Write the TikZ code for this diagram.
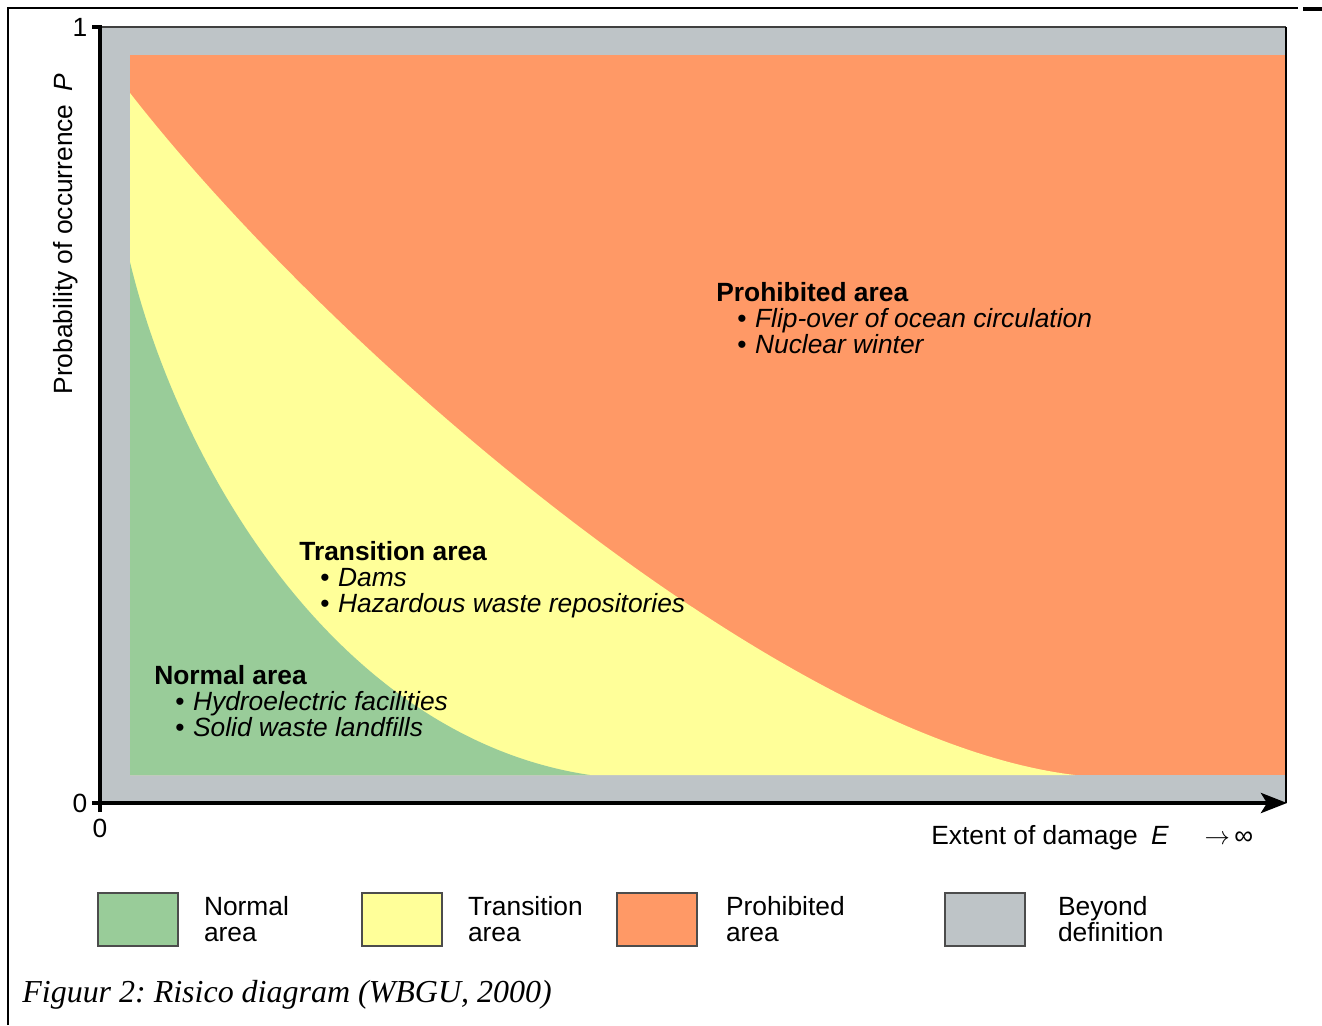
\documentclass[tikz,border=0pt]{standalone}
\usepackage{fontspec}
\setmainfont{Liberation Sans}
\newfontfamily\capfont{Liberation Serif}
\usetikzlibrary{positioning,arrows.meta}
\definecolor{normalgreen}{RGB}{153,204,153}
\definecolor{transyellow}{RGB}{255,255,153}
\definecolor{prohiborange}{RGB}{255,153,102}
\definecolor{beyondgray}{RGB}{190,196,199}
\newcommand{\areaitem}[1]{\hspace*{0.42cm}\textbullet\hspace{0.17cm}\textit{#1}}

\begin{document}
\frenchspacing
\begin{tikzpicture}[x=0.02cm,y=-0.02cm,
  txt/.style={font=\fontsize{15}{14.8}\selectfont,inner sep=0pt},
  areatxt/.style={txt,align=left,anchor=north west},
  legbox/.style={draw=black!70,line width=0.8pt,minimum width=1.6cm,minimum height=1.06cm,inner sep=0pt},
  legtxt/.style={txt,align=left,anchor=west},
  axisline/.style={line width=2.4pt}
]
\useasboundingbox (0,0) rectangle (1322,1025);

% page frame
\draw[line width=1pt] (8,1025) -- (8,8) -- (1298,8);
\draw[line width=2pt] (1303,9) -- (1322,9);

% the areas
\fill[beyondgray] (100,27) rectangle (1286,803);
\fill[prohiborange] (130,55) rectangle (1286,775);
\fill[transyellow] (130,93) .. controls (330,350) and (780,740) .. (1075,775) -- (130,775) -- cycle;
\fill[normalgreen] (130,262) .. controls (180,470) and (340,738) .. (590,775) -- (130,775) -- cycle;

% the axes
\coordinate (origin) at (100,803);
\coordinate (ytop) at (100,27);
\coordinate (xend) at (1287,803);
\coordinate (rtop) at (1286,27);
\draw[black!75,line width=1pt] (ytop) -- (rtop);
\draw[line width=1.6pt] (rtop) -- (1286,803);
\draw[axisline] (100,812) -- (ytop) -- (92,27);
\draw[axisline,-{Stealth[length=0.52cm,width=0.4cm,inset=0.12cm]}] (92,803) -- (xend);

\node[txt] (one) at (80,27) {1};
\node[txt] (zeroy) at (80,803) {0};
\node[txt] (zerox) at (100,828) {0};
\node[txt,rotate=90] (ylabel) at (66,234) {Probability of occurrence\enspace\textit{P}};
\node[txt,anchor=west] (xlabel) at (931,838) {Extent of damage\enspace\textit{E}};
\node[txt,right=0.7cm of xlabel] (infty) {$\rightarrow$\,∞};

% the area texts
\node[areatxt] (prohib) at (716,282) {\textbf{Prohibited area}\\ \areaitem{Flip-over of ocean circulation}\\ \areaitem{Nuclear winter}};
\node[areatxt] (trans) at (299,541) {\textbf{Transition area}\\ \areaitem{Dams}\\ \areaitem{Hazardous waste repositories}};
\node[areatxt] (normal) at (154,665) {\textbf{Normal area}\\ \areaitem{Hydroelectric facilities}\\ \areaitem{Solid waste landfills}};

% the legend
\node[legbox,fill=normalgreen] (legnormal) at (138,919.5) {};
\node[legbox,fill=transyellow] (legtrans) at (402,919.5) {};
\node[legbox,fill=prohiborange] (legprohib) at (657,919.5) {};
\node[legbox,fill=beyondgray] (legbeyond) at (985,919.5) {};
\node[legtxt,right=0.5cm of legnormal] (lnormal) {Normal\\area};
\node[legtxt,right=0.5cm of legtrans] (ltrans) {Transition\\area};
\node[legtxt,right=0.56cm of legprohib] (lprohib) {Prohibited\\area};
\node[legtxt,right=0.64cm of legbeyond] (lbeyond) {Beyond\\definition};

% caption
\node[anchor=west,inner sep=0pt,font=\capfont\itshape\fontsize{18.2}{20}\selectfont] (caption) at (22,995) {Figuur 2: Risico diagram (WBGU, 2000)};
\end{tikzpicture}
\end{document}
